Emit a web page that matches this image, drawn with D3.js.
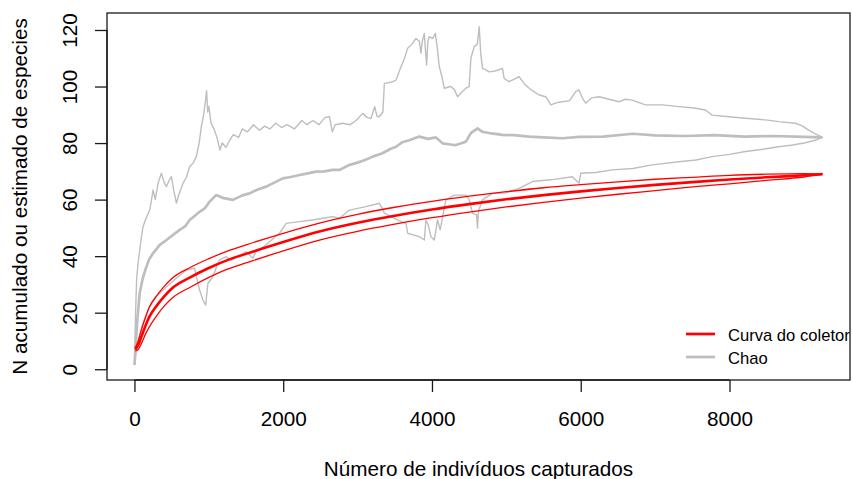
<!DOCTYPE html>
<html>
<head>
<meta charset="utf-8">
<script src="https://cdn.jsdelivr.net/npm/d3@7"></script>
<style>
  html, body { margin: 0; padding: 0; background: #fff; }
  svg { display: block; }
  text { font-family: "Liberation Sans", Arial, sans-serif; fill: #000; }
</style>
</head>
<body>
<svg id="chart" width="852" height="479"></svg>
<script>
// ---------------- DATA ----------------
const xTicks = [0, 2000, 4000, 6000, 8000];
const yTicks = [0, 20, 40, 60, 80, 100, 120];
const xLabel = "Número de indivíduos capturados";
const yLabel = "N acumulado ou estimado de especies";
const legendLabels = ["Curva do coletor", "Chao"];

// Collector curve (mean and confidence band)
const coletorX     = [10, 50, 100, 150, 200, 300, 400, 500, 750, 1000, 1250, 1500, 2000, 2500, 3000, 3500, 4000, 4500, 5000, 5500, 6000, 6500, 7000, 7500, 8000, 8500, 9000, 9250];
const coletorMean  = [7, 8.5, 12, 15.5, 18.5, 22.5, 25.8, 28.5, 32.5, 35.8, 38.6, 40.8, 45, 48.8, 51.8, 54.3, 56.5, 58.4, 60.1, 61.6, 62.9, 64.1, 65.2, 66.2, 67.1, 67.9, 68.6, 69];
const coletorUpper = [7.5, 10, 14.5, 18.5, 22, 26, 29.3, 32, 36, 39.1, 41.8, 44, 48.1, 51.8, 54.8, 57.3, 59.4, 61.2, 62.8, 64.2, 65.3, 66.3, 67.2, 67.9, 68.6, 69.0, 69.2, 69.1];
const coletorLower = [6.5, 7, 9.5, 12.5, 15, 19, 22.3, 25, 29, 32.5, 35.4, 37.6, 41.9, 45.8, 48.8, 51.3, 53.6, 55.6, 57.4, 59, 60.5, 61.9, 63.2, 64.5, 65.6, 66.8, 68, 68.9];

// Chao estimate
const chaoX = [1, 20, 40, 71, 110, 161, 200, 250, 340, 430, 520, 608, 680, 742, 800, 876, 950, 1011, 1100, 1200, 1324, 1450, 1548, 1650, 1771, 1880, 1995, 2100, 2219, 2330, 2443, 2550, 2666, 2755, 2890, 2980, 3100, 3203, 3333, 3446, 3517, 3600, 3695, 3829, 3950, 4052, 4142, 4250, 4322, 4456, 4523, 4612, 4679, 4800, 4948, 5100, 5306, 5500, 5753, 5977, 6300, 6700, 7000, 7400, 7800, 8200, 8600, 9000, 9250];
const chaoY = [1.5, 10, 18, 27, 32, 36.3, 39, 41, 44, 45.7, 47.5, 49.3, 50.5, 52.8, 54, 55.7, 57, 59.3, 61.6, 60.5, 59.9, 61.5, 62.2, 63.5, 64.6, 66, 67.5, 68, 68.7, 69.3, 69.9, 70, 70.5, 70.5, 72.3, 72.9, 74, 75.2, 76.4, 78, 78.7, 80.3, 81, 82.3, 81.5, 82, 79.9, 79.5, 79.3, 80.5, 83.5, 85.2, 84, 83.4, 82.9, 82.8, 82.3, 82, 81.7, 82.2, 82.3, 83.3, 82.7, 82.5, 82.8, 82.3, 82.5, 82.2, 82];

// Chao upper confidence limit
const chaoUpX = [1, 5, 15, 30, 50, 71, 90, 115, 150, 205, 230, 250, 280, 320, 362, 400, 430, 470, 497, 530, 564, 600, 653, 700, 742, 790, 832, 870, 900, 930, 955, 970, 985, 1000, 1030, 1070, 1110, 1150, 1180, 1230, 1280, 1330, 1400, 1450, 1520, 1600, 1680, 1750, 1820, 1900, 1980, 2050, 2150, 2250, 2320, 2400, 2480, 2560, 2621, 2660, 2700, 2800, 2900, 2980, 3068, 3130, 3181, 3230, 3260, 3292, 3340, 3360, 3450, 3517, 3584, 3630, 3673, 3730, 3785, 3830, 3852, 3870, 3897, 3915, 3928, 3945, 3963, 4010, 4045, 4070, 4098, 4130, 4165, 4250, 4300, 4344, 4400, 4456, 4500, 4523, 4568, 4610, 4635, 4655, 4679, 4720, 4768, 4850, 4948, 4970, 5037, 5100, 5171, 5240, 5306, 5380, 5440, 5530, 5597, 5680, 5753, 5850, 5932, 5977, 6020, 6066, 6150, 6245, 6380, 6514, 6600, 6692, 6871, 7100, 7319, 7500, 7677, 7767, 7990, 8214, 8483, 8661, 8885, 8970, 9064, 9150, 9250];
const chaoUpY = [1.5, 8, 20, 32, 38, 42, 46, 50.4, 53, 56.3, 60, 63.4, 60, 66, 69.3, 66, 64.6, 67, 68.1, 63, 58.8, 62, 65.8, 68, 71.6, 73, 75.2, 80, 86, 90, 95, 98.5, 91, 93, 87, 85, 82, 77.5, 80, 78.5, 81, 83, 82, 85, 84, 86.5, 84.5, 86, 85, 87, 85.5, 86.5, 85, 88, 86.5, 88, 86.5, 89, 89.4, 84, 86.5, 87, 86.5, 88, 90.5, 89, 88.8, 92.9, 89.5, 89.3, 91, 101.1, 101.5, 102.3, 107, 110, 113.5, 115, 117, 116, 111.8, 116, 118.8, 112, 107.6, 116, 117.6, 117, 118.8, 114, 107, 104, 99.4, 100, 99, 96.4, 98, 99.4, 100, 110, 114.1, 115, 121.2, 112, 106.4, 106, 105.2, 105.5, 106.4, 102.9, 101.7, 102.5, 103.5, 101, 99.4, 98, 97, 96.4, 93.5, 94.3, 94.6, 95, 98.2, 98.8, 96, 94.1, 96, 96.4, 95.5, 94.6, 95.5, 95.2, 93.5, 93.5, 92.9, 92.5, 91.7, 89.9, 89.3, 88.8, 88.2, 87.6, 87, 86.2, 84.6, 83.3, 82];

// Chao lower confidence limit
const chaoLowX = [1, 20, 50, 115, 205, 294, 430, 564, 698, 809, 840, 876, 921, 957, 988, 1055, 1100, 1145, 1235, 1300, 1413, 1503, 1592, 1640, 1720, 1816, 1950, 2040, 2219, 2397, 2550, 2666, 2755, 2890, 3114, 3292, 3330, 3360, 3494, 3600, 3651, 3673, 3829, 3897, 3919, 3950, 3986, 4031, 4075, 4110, 4188, 4299, 4456, 4500, 4545, 4600, 4612, 4625, 4679, 4813, 4980, 5171, 5350, 5600, 5887, 5977, 6000, 6200, 6425, 6700, 6961, 7319, 7550, 7767, 8000, 8214, 8450, 8661, 8850, 9020, 9150, 9250];
const chaoLowY = [1.5, 6, 10, 16.3, 22.1, 25.7, 29.2, 32.2, 35.1, 35.7, 32, 28, 24.5, 22.7, 30.4, 32.7, 36, 38.7, 39.8, 38.5, 40.4, 41.6, 39.3, 42, 43, 45.1, 48.1, 51.6, 52.2, 52.8, 53.5, 54, 53.4, 56.3, 57.5, 58.7, 57, 55.2, 53.4, 52, 51.6, 48.1, 46.9, 45.7, 52.8, 51, 46.9, 45.7, 52.8, 49.3, 59.9, 61.6, 61.6, 60, 55.2, 54.6, 49.9, 56, 59.9, 62.2, 62.3, 64, 66.4, 67, 68.1, 65.8, 69.3, 69.6, 70.5, 71, 72.3, 73.4, 74, 75.2, 76, 77, 77.8, 78.7, 79.3, 80.1, 81, 82];

// ---------------- LAYOUT ----------------
const box = { left: 107, right: 850, top: 13, bottom: 380 };
const xData = [1, 9250], yData = [1, 121.2];
const pad = (d) => { const r = d[1] - d[0]; return [d[0] - 0.04 * r, d[1] + 0.04 * r]; };

const x = d3.scaleLinear().domain(pad(xData)).range([box.left, box.right]);
const y = d3.scaleLinear().domain(pad(yData)).range([box.bottom, box.top]);

const svg = d3.select("#chart");
const fontSize = 20.7;

svg.append("defs").append("clipPath").attr("id", "plotclip")
  .append("rect").attr("x", box.left).attr("y", box.top)
  .attr("width", box.right - box.left).attr("height", box.bottom - box.top);

const plot = svg.append("g").attr("clip-path", "url(#plotclip)");

const zip = (xs, ys) => xs.map((v, i) => [v, ys[i]]);
const line = d3.line().x(d => x(d[0])).y(d => y(d[1]));

const gray = "#bebebe";
const red = "#ff0000";

// Chao series
plot.append("path").datum(zip(chaoUpX, chaoUpY)).attr("d", line)
  .attr("fill", "none").attr("stroke", gray).attr("stroke-width", 1.4).attr("stroke-linejoin", "round");
plot.append("path").datum(zip(chaoLowX, chaoLowY)).attr("d", line)
  .attr("fill", "none").attr("stroke", gray).attr("stroke-width", 1.4).attr("stroke-linejoin", "round");
plot.append("path").datum(zip(chaoX, chaoY)).attr("d", line)
  .attr("fill", "none").attr("stroke", gray).attr("stroke-width", 2.7).attr("stroke-linejoin", "round");

// Collector curve
plot.append("path").datum(zip(coletorX, coletorUpper)).attr("d", line.curve(d3.curveMonotoneX))
  .attr("fill", "none").attr("stroke", red).attr("stroke-width", 1.3);
plot.append("path").datum(zip(coletorX, coletorLower)).attr("d", line.curve(d3.curveMonotoneX))
  .attr("fill", "none").attr("stroke", red).attr("stroke-width", 1.3);
plot.append("path").datum(zip(coletorX, coletorMean)).attr("d", line.curve(d3.curveMonotoneX))
  .attr("fill", "none").attr("stroke", red).attr("stroke-width", 2.6);

// Frame
svg.append("rect").attr("x", box.left).attr("y", box.top)
  .attr("width", box.right - box.left).attr("height", box.bottom - box.top)
  .attr("fill", "none").attr("stroke", "#1a1a1a").attr("stroke-width", 1.3);

// X axis
const xAxis = d3.axisBottom(x).tickValues(xTicks).tickSize(12).tickPadding(0).tickFormat(d3.format("d"));
const gx = svg.append("g").attr("transform", `translate(0,${box.bottom})`).call(xAxis);
gx.select(".domain").attr("d", `M${x(xTicks[0])},0H${x(xTicks[xTicks.length - 1])}`).attr("stroke", "#1a1a1a").attr("stroke-width", 1.3);
gx.selectAll(".tick line").attr("stroke", "#1a1a1a").attr("stroke-width", 1.3);
gx.selectAll(".tick text").attr("y", 46).attr("dy", null)
  .style("font-size", fontSize + "px").style("font-family", "'Liberation Sans', Arial, sans-serif").attr("fill", "#000");

// Y axis
const yAxis = d3.axisLeft(y).tickValues(yTicks).tickSize(12).tickFormat(d3.format("d"));
const gy = svg.append("g").attr("transform", `translate(${box.left},0)`).call(yAxis);
gy.select(".domain").attr("d", `M0,${y(yTicks[0])}V${y(yTicks[yTicks.length - 1])}`).attr("stroke", "#1a1a1a").attr("stroke-width", 1.3);
gy.selectAll(".tick line").attr("stroke", "#1a1a1a").attr("stroke-width", 1.3);
gy.selectAll(".tick text")
  .attr("x", null).attr("dy", null)
  .attr("transform", "translate(-30,0) rotate(-90)")
  .attr("text-anchor", "middle")
  .style("font-size", fontSize + "px").style("font-family", "'Liberation Sans', Arial, sans-serif").attr("fill", "#000");

// Axis titles
svg.append("text").attr("x", (box.left + box.right) / 2).attr("y", 476)
  .attr("text-anchor", "middle").style("font-size", fontSize + "px").text(xLabel);
svg.append("text").attr("transform", `translate(27,${(box.top + box.bottom) / 2}) rotate(-90)`)
  .attr("text-anchor", "middle").style("font-size", fontSize + "px").text(yLabel);

// Legend (clipped to plot region)
const legend = svg.append("g").attr("clip-path", "url(#plotclip)");
const legendColors = [red, gray];
legendLabels.forEach((lab, i) => {
  const ly = 334 + i * 23;
  legend.append("line").attr("x1", 686).attr("x2", 715).attr("y1", ly).attr("y2", ly)
    .attr("stroke", legendColors[i]).attr("stroke-width", 2.7);
  legend.append("text").attr("x", 728).attr("y", ly + 6.5)
    .style("font-size", "16.6px").text(lab);
});
</script>
</body>
</html>
